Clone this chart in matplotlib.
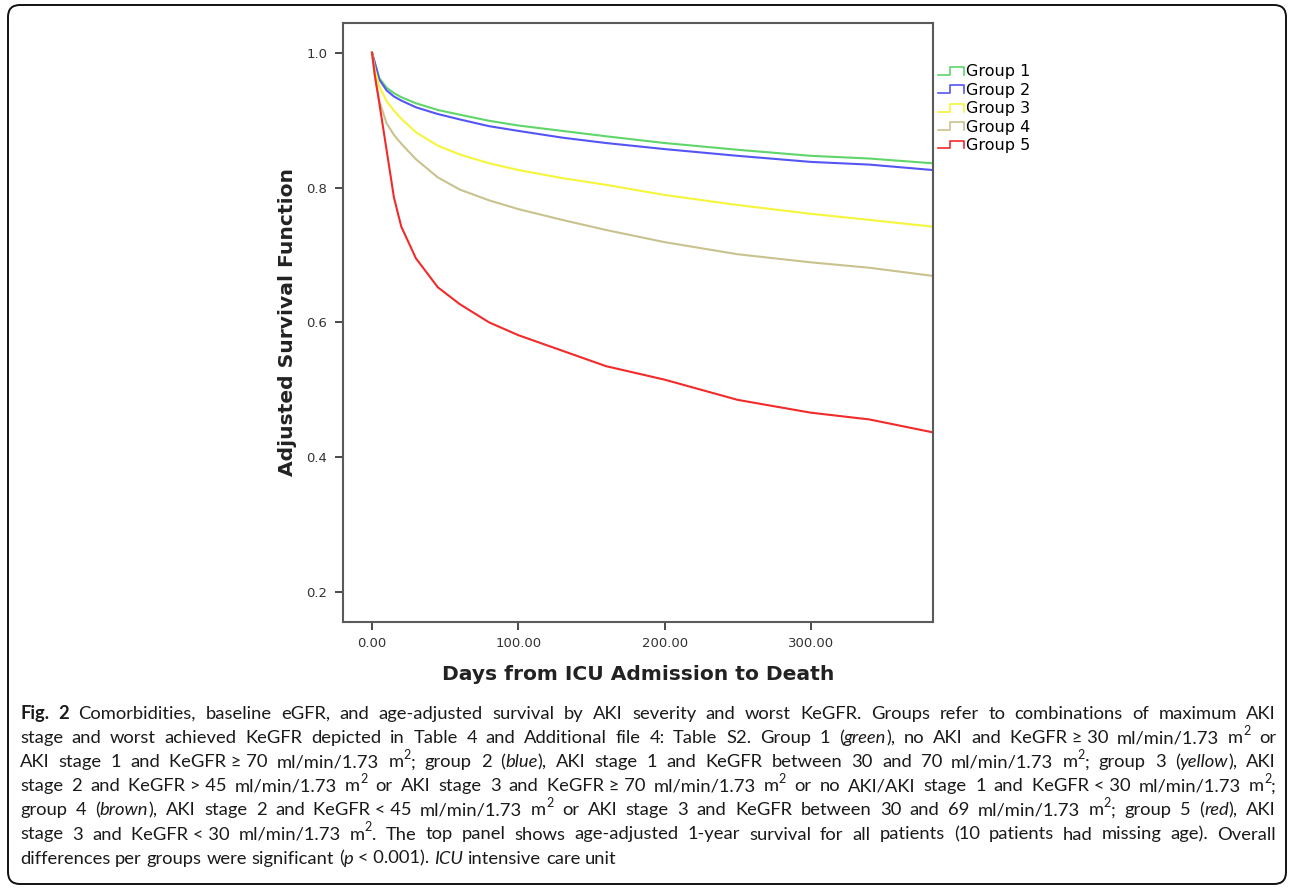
import re
import matplotlib
matplotlib.use('Agg')
import matplotlib.pyplot as plt
from matplotlib.lines import Line2D
from matplotlib.legend_handler import HandlerBase
from matplotlib.patches import FancyBboxPatch
from matplotlib.transforms import IdentityTransform

# values (days since ICU admission, adjusted survival)
days = [0, 2, 5, 10, 15, 20, 30, 45, 60, 80, 100, 130, 160, 200, 250, 300, 340, 383]
group1 = [1.0, 0.985, 0.962, 0.948, 0.940, 0.934, 0.925, 0.915, 0.908, 0.899, 0.892, 0.884, 0.876, 0.866, 0.856, 0.847, 0.843, 0.836]
group2 = [1.0, 0.984, 0.960, 0.944, 0.935, 0.929, 0.919, 0.909, 0.901, 0.891, 0.884, 0.874, 0.866, 0.857, 0.847, 0.838, 0.834, 0.826]
group3 = [1.0, 0.975, 0.950, 0.928, 0.914, 0.902, 0.882, 0.862, 0.849, 0.836, 0.826, 0.814, 0.804, 0.789, 0.774, 0.761, 0.752, 0.742]
group4 = [1.0, 0.965, 0.928, 0.895, 0.878, 0.865, 0.842, 0.815, 0.797, 0.781, 0.768, 0.752, 0.737, 0.719, 0.701, 0.689, 0.681, 0.669]
group5 = [1.0, 0.965, 0.925, 0.855, 0.785, 0.742, 0.695, 0.652, 0.627, 0.600, 0.581, 0.558, 0.535, 0.515, 0.485, 0.466, 0.456, 0.437]

group_labels = ['Group 1', 'Group 2', 'Group 3', 'Group 4', 'Group 5']
group_colors = ['#5ed66a', '#5555f5', '#f5f53c', '#c9c28e', '#f22a2a']
x_ticks = [0, 100, 200, 300]
y_ticks = [0.2, 0.4, 0.6, 0.8, 1.0]

T = '\u00a0'  # no-break space around the relation signs
caption = [
    "**Fig. 2** Comorbidities, baseline eGFR, and age-adjusted survival by AKI severity and worst KeGFR. Groups refer to combinations of maximum AKI",
    f"stage and worst achieved KeGFR depicted in Table 4 and Additional file 4: Table S2. Group 1 (*green*), no AKI and KeGFR{T}≥{T}30 ml/min/1.73 m^2 or",
    f"AKI stage 1 and KeGFR{T}≥{T}70 ml/min/1.73 m^2; group 2 (*blue*), AKI stage 1 and KeGFR between 30 and 70 ml/min/1.73 m^2; group 3 (*yellow*), AKI",
    f"stage 2 and KeGFR{T}>{T}45 ml/min/1.73 m^2 or AKI stage 3 and KeGFR{T}≥{T}70 ml/min/1.73 m^2 or no AKI/AKI stage 1 and KeGFR{T}<{T}30 ml/min/1.73 m^2;",
    f"group 4 (*brown*), AKI stage 2 and KeGFR{T}<{T}45 ml/min/1.73 m^2 or AKI stage 3 and KeGFR between 30 and 69 ml/min/1.73 m^2; group 5 (*red*), AKI",
    f"stage 3 and KeGFR{T}<{T}30 ml/min/1.73 m^2. The top panel shows age-adjusted 1-year survival for all patients (10 patients had missing age). Overall",
    f"differences per groups were significant (*p*{T}<{T}0.001). *ICU* intensive care unit",
]


class StepHandler(HandlerBase):
    # little step glyph like the SPSS legend
    def create_artists(self, legend, orig_handle, xdescent, ydescent,
                       width, height, fontsize, trans):
        x0, y0 = -xdescent, -ydescent
        xs = [x0, x0 + 0.45 * width, x0 + 0.45 * width, x0 + width, x0 + width]
        ys = [y0 + 0.15 * height, y0 + 0.15 * height, y0 + 0.85 * height,
              y0 + 0.85 * height, y0 + 0.15 * height]
        ln = Line2D(xs, ys, color=orig_handle.get_color(), lw=1.2)
        ln.set_transform(trans)
        return [ln]


fig = plt.figure(figsize=(12.92, 8.89), dpi=100)
ax = fig.add_axes([0.2653, 0.3007, 0.4566, 0.6734])

series = [group1, group2, group3, group4, group5]
handles = []
for vals, lab, col in zip(series, group_labels, group_colors):
    ln, = ax.plot(days, vals, color=col, lw=1.5, label=lab)
    handles.append(ln)

ax.set_xlim(-20, 383.3)
ax.set_ylim(0.156, 1.044)
ax.set_xticks(x_ticks)
ax.set_xticklabels(['%.2f' % v for v in x_ticks])
ax.set_yticks(y_ticks)
ax.set_yticklabels(['%.1f' % v for v in y_ticks])
for sp in ax.spines.values():
    sp.set_color('#5a5a5a')
    sp.set_linewidth(1.5)
ax.tick_params(direction='out', length=6, width=1.4, color='#4a4a4a',
               labelsize=9.5, labelcolor='#333333', pad=5)

ax.set_xlabel('Days from ICU Admission to Death', fontsize=14.6, fontweight='bold', color='#222222')
ax.xaxis.set_label_coords(0.5, -0.089)
ax.xaxis.label.set_va('center')
ax.set_ylabel('Adjusted Survival Function', fontsize=14.6, fontweight='bold', color='#222222')
ax.yaxis.set_label_coords(-0.094, 0.5)
ax.yaxis.label.set_va('center')

ax.legend(handles=handles, labels=group_labels, loc='upper left',
          bbox_to_anchor=(1.009, 0.931), frameon=False, fontsize=11.5,
          handlelength=1.65, handletextpad=0.12, labelspacing=0.215,
          borderpad=0, borderaxespad=0,
          handler_map={Line2D: StepHandler()})

# outer rounded frame
frame = FancyBboxPatch((8, 5), 1278, 879, boxstyle='round,pad=0,rounding_size=12',
                       transform=IdentityTransform(), fill=False, lw=1.4, ec='#111111')
fig.add_artist(frame)

# justified caption, laid out word by word
fig.canvas.draw()
renderer = fig.canvas.get_renderer()
cap_font = ['Lato', 'DejaVu Sans']
cap_size = 13.25
left_px, right_px = 20, 1276
base_top = 719
line_gap = 24.1


def parse(line):
    runs = []
    for tok in re.split(r'(\*\*[^*]+\*\*|\*[^*]+\*|\^2)', line):
        if not tok:
            continue
        if tok.startswith('**'):
            runs.append((tok[2:-2], 'b'))
        elif tok.startswith('*'):
            runs.append((tok[1:-1], 'i'))
        elif tok == '^2':
            runs.append(('2', 's'))
        else:
            runs.append((tok, ''))
    return runs


def words_of(runs):
    words = [[]]
    for txt, st in runs:
        parts = txt.split(' ')
        for k, p in enumerate(parts):
            if k > 0:
                words.append([])
            if p:
                words[-1].append((p, st))
    return [w for w in words if w]


def make_text(s, st, x, y):
    size = cap_size * 0.68 if st == 's' else cap_size
    t = fig.text(x, y, s, family=cap_font, fontsize=size,
                 fontstyle='italic' if st == 'i' else 'normal',
                 fontweight='bold' if st == 'b' else 'normal',
                 color='#1a1a1a', va='baseline', ha='left',
                 transform=IdentityTransform())
    return t


space_t = make_text('a a', '', 0, -100)
aa_t = make_text('aa', '', 0, -100)
space_w = space_t.get_window_extent(renderer).width - aa_t.get_window_extent(renderer).width
space_t.remove()
aa_t.remove()
sup_rise = cap_size * 100 / 72 * 0.45

for i, line in enumerate(caption):
    y = 889 - (base_top + i * line_gap)
    words = words_of(parse(line))
    pieces = []
    total = 0
    for w in words:
        ws = []
        for s, st in w:
            t = make_text(s, st, 0, y + (sup_rise if st == 's' else 0))
            wd = t.get_window_extent(renderer).width
            ws.append((t, wd))
            total += wd
        pieces.append(ws)
    if i < len(caption) - 1:
        gap = (right_px - left_px - total) / (len(words) - 1)
    else:
        gap = space_w
    x = left_px
    for ws in pieces:
        for t, wd in ws:
            t.set_x(x)
            x += wd
        x += gap

fig.savefig('out.png', dpi=100)
